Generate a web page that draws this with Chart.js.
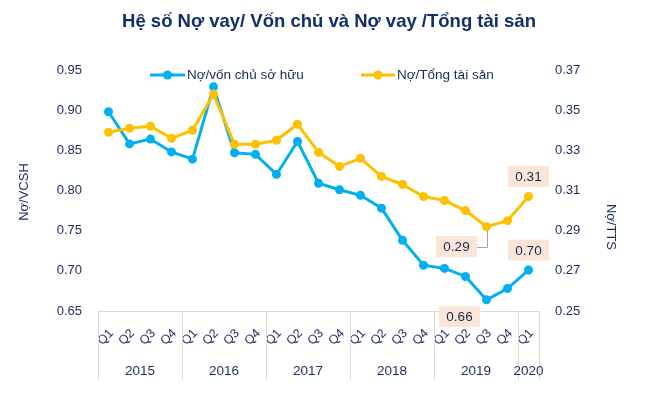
<!DOCTYPE html>
<html>
<head>
<meta charset="utf-8">
<script src="https://cdn.jsdelivr.net/npm/chart.js@4/dist/chart.umd.min.js"></script>
<style>
  html, body { margin: 0; padding: 0; background: #fff; }
  #wrap { width: 650px; height: 413px; }
</style>
</head>
<body>
<div id="wrap"><canvas id="chart" width="650" height="413"></canvas></div>
<script>
// data
const quarters = ['Q1','Q2','Q3','Q4','Q1','Q2','Q3','Q4','Q1','Q2','Q3','Q4',
                  'Q1','Q2','Q3','Q4','Q1','Q2','Q3','Q4','Q1'];
const years = ['2015','2016','2017','2018','2019','2020'];
const quartersPerYear = [4, 4, 4, 4, 4, 1];
const debtToEquity = [0.898,0.858,0.864,0.848,0.839,0.929,0.847,0.845,0.820,0.861,0.809,
                      0.801,0.794,0.778,0.738,0.707,0.703,0.693,0.664,0.678,0.701];
const debtToAssets = [0.339,0.341,0.342,0.336,0.340,0.358,0.333,0.333,0.335,0.343,0.329,
                      0.322,0.326,0.317,0.313,0.307,0.305,0.300,0.292,0.295,0.307];
const leftTicks = [0.65, 0.95, 0.05];
const rightTicks = [0.25, 0.37, 0.02];
// labelled points: dataset index, point index
const callouts = [[1, 20], [1, 18], [0, 20], [0, 18]];

const FONT = "'Liberation Sans', Arial, sans-serif";
const TXT = '#1A2A5A';
const BLUE = '#00B0F0';
const GOLD = '#FFC000';

const overlay = {
  id: 'overlay',
  afterDraw(chart) {
    const ctx = chart.ctx;
    const a = chart.chartArea;
    const x = chart.scales.x;
    ctx.save();

    // title
    ctx.fillStyle = '#132F6B';
    ctx.font = 'bold 18.5px ' + FONT;
    ctx.textAlign = 'center';
    ctx.textBaseline = 'middle';
    ctx.fillText('Hệ số Nợ vay/ Vốn chủ và Nợ vay /Tổng tài sản', 329, 22);

    // legend
    const legend = [[150, 185, 0], [361, 395, 1]];
    ctx.font = '13.5px ' + FONT;
    ctx.textAlign = 'left';
    legend.forEach(([x0, x1, di]) => {
      const ds = chart.data.datasets[di];
      ctx.strokeStyle = ds.borderColor;
      ctx.lineWidth = 3;
      ctx.beginPath(); ctx.moveTo(x0, 75); ctx.lineTo(x1, 75); ctx.stroke();
      ctx.fillStyle = ds.borderColor;
      ctx.beginPath(); ctx.arc((x0 + x1) / 2, 75, 4.5, 0, Math.PI * 2); ctx.fill();
      ctx.fillStyle = TXT;
      ctx.fillText(ds.label, x1 + 2, 75);
    });

    // axis titles
    ctx.font = '13px ' + FONT;
    ctx.textAlign = 'center';
    ctx.save();
    ctx.translate(24, 192); ctx.rotate(-Math.PI / 2);
    ctx.fillText('Nợ/VCSH', 0, 0);
    ctx.restore();
    ctx.save();
    ctx.translate(611, 227); ctx.rotate(Math.PI / 2);
    ctx.fillText('Nợ/TTS', 0, 0);
    ctx.restore();

    // year groups and separators
    ctx.strokeStyle = '#D9D9D9';
    ctx.lineWidth = 1;
    let start = 0;
    const edge = i => i <= 0 ? x.left : i >= quarters.length ? x.right
      : (x.getPixelForValue(i - 1) + x.getPixelForValue(i)) / 2;
    ctx.beginPath();
    ctx.moveTo(Math.round(edge(0)) + 0.5, a.bottom);
    ctx.lineTo(Math.round(edge(0)) + 0.5, 380);
    ctx.stroke();
    ctx.font = '13.5px ' + FONT;
    years.forEach((yr, k) => {
      const end = start + quartersPerYear[k];
      const xe = Math.round(edge(end)) + 0.5;
      ctx.beginPath(); ctx.moveTo(xe, a.bottom); ctx.lineTo(xe, 380); ctx.stroke();
      ctx.fillStyle = TXT;
      ctx.fillText(yr, (edge(start) + edge(end)) / 2, 371);
      start = end;
    });

    // callout boxes
    const place = [[0, -20, false], [-30, 20, true], [0, -20, false], [-27, 17, false]];
    callouts.forEach(([di, pi], k) => {
      const pt = chart.getDatasetMeta(di).data[pi];
      const [dx, dy, leader] = place[k];
      const cx = pt.x + dx, cy = pt.y + dy;
      if (leader) {
        ctx.strokeStyle = '#A6A6A6';
        ctx.beginPath();
        ctx.moveTo(Math.round(pt.x) + 0.5, pt.y + 4);
        ctx.lineTo(Math.round(pt.x) + 0.5, Math.round(cy) + 0.5);
        ctx.lineTo(cx + 20, Math.round(cy) + 0.5);
        ctx.stroke();
      }
      ctx.fillStyle = '#FBE5D6';
      ctx.fillRect(cx - 20.5, cy - 10.5, 41, 21);
      ctx.fillStyle = TXT;
      ctx.font = '13.5px ' + FONT;
      ctx.fillText(chart.data.datasets[di].data[pi].toFixed(2), cx, cy + 1);
    });
    ctx.restore();
  }
};

new Chart(document.getElementById('chart'), {
  type: 'line',
  data: {
    labels: quarters,
    datasets: [
      { label: 'Nợ/vốn chủ sở hữu', data: debtToEquity, yAxisID: 'y', order: 1,
        borderColor: BLUE, backgroundColor: BLUE, borderWidth: 3,
        pointRadius: 4.5, pointBackgroundColor: BLUE, pointBorderWidth: 0, tension: 0 },
      { label: 'Nợ/Tổng tài sản', data: debtToAssets, yAxisID: 'y1', order: 0,
        borderColor: GOLD, backgroundColor: GOLD, borderWidth: 3,
        pointRadius: 4.5, pointBackgroundColor: GOLD, pointBorderWidth: 0, tension: 0 }
    ]
  },
  options: {
    responsive: false,
    animation: false,
    layout: { padding: { top: 70, bottom: 0, left: 0, right: 0 } },
    plugins: { legend: { display: false }, title: { display: false }, tooltip: { enabled: false } },
    scales: {
      x: {
        offset: true,
        grid: { display: false },
        border: { display: true, color: '#D9D9D9' },
        ticks: { color: TXT, font: { family: FONT, size: 12.5 }, autoSkip: false,
                 maxRotation: 45, minRotation: 45, padding: 7, labelOffset: 3 },
        afterFit: s => { s.height = 102; }
      },
      y: {
        position: 'left',
        min: leftTicks[0], max: leftTicks[1],
        grid: { display: false, drawTicks: false },
        border: { display: false },
        ticks: { stepSize: leftTicks[2], padding: 16, color: TXT, font: { family: FONT, size: 13 },
                 callback: v => v.toFixed(2) },
        afterFit: s => { s.width = 98; }
      },
      y1: {
        position: 'right',
        min: rightTicks[0], max: rightTicks[1],
        grid: { display: false, drawTicks: false },
        border: { display: false },
        ticks: { stepSize: rightTicks[2], padding: 16, color: TXT, font: { family: FONT, size: 13 },
                 callback: v => v.toFixed(2) },
        afterFit: s => { s.width = 111; }
      }
    }
  },
  plugins: [overlay]
});
</script>
</body>
</html>
